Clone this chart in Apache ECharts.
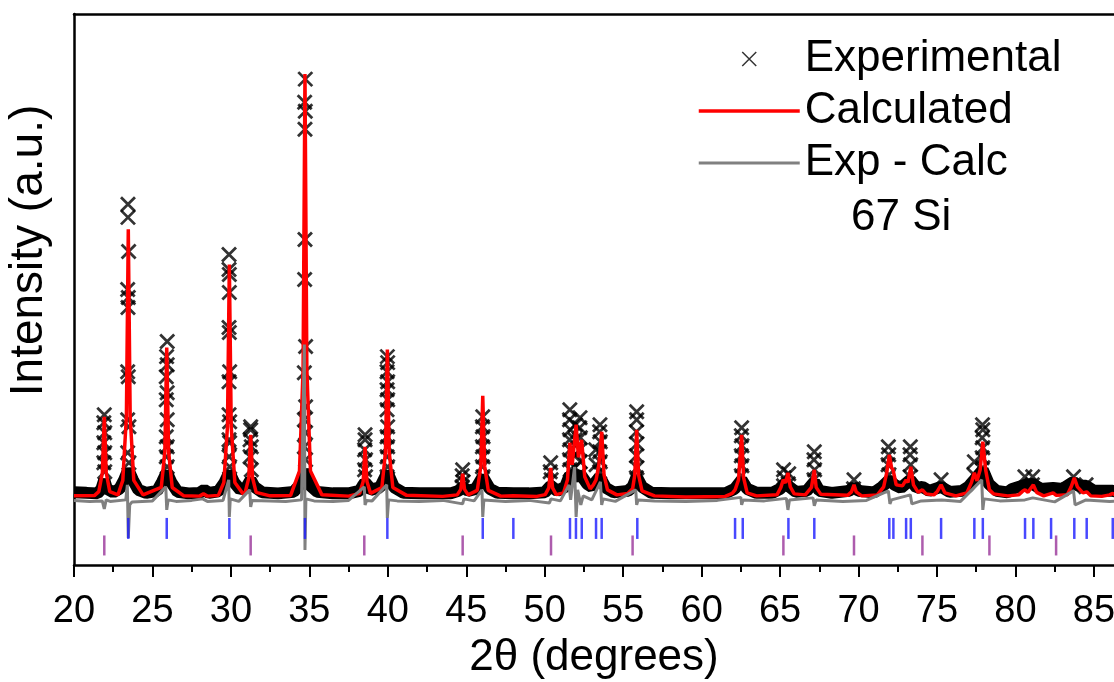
<!DOCTYPE html>
<html>
<head>
<meta charset="utf-8">
<script src="https://cdn.jsdelivr.net/npm/echarts@6/dist/echarts.min.js"></script>
<style>
html,body{margin:0;padding:0;background:#fff;}
#chart{width:1114px;height:682px;}
</style>
</head>
<body>
<div id="chart"></div>
<script>
// ---- Data (2θ in degrees, intensity in arbitrary units) ----
const xMajorTicks = [20, 25, 30, 35, 40, 45, 50, 55, 60, 65, 70, 75, 80, 85];
const xMinorTicks = [22.5, 27.5, 32.5, 37.5, 42.5, 47.5, 52.5, 57.5, 62.5, 67.5, 72.5, 77.5, 82.5];

// Dense experimental background band (overlapping markers)
const experimentalBand = [
  [20,450],[20.8,440],[21.5,430],[21.75,520],[21.93,700],[22.1,520],[22.5,450],[22.9,520],[23.2,700],[23.46,900],[23.75,700],[24.1,500],[24.6,440],
  [25.3,480],[25.6,650],[25.91,850],[26.2,650],[26.6,460],[27.3,430],[28.0,440],[28.3,500],[28.6,440],[29.2,470],[29.6,650],[29.9,850],[30.2,650],
  [30.6,500],[31.0,560],[31.26,700],[31.5,560],[32.0,450],[33.0,430],[34.0,460],[34.4,600],[34.72,900],[35.0,600],[35.5,460],[36.5,430],[37.5,430],
  [38.2,480],[38.55,650],[38.9,500],[39.5,550],[39.97,850],[40.4,550],[41,440],[42,430],[43,430],[44,430],[44.5,480],[44.77,560],[45.1,480],
  [45.6,520],[46.05,760],[46.5,520],[47,440],[48,430],[49,430],[50,450],[50.38,580],[50.8,480],[51.3,560],[51.6,800],[52.0,760],[52.3,800],
  [52.7,620],[53.0,560],[53.5,760],[53.9,540],[54.4,450],[55.3,480],[55.6,560],[55.86,760],[56.2,560],[56.8,440],[58,430],[60,430],[61.5,430],
  [62.1,520],[62.55,700],[62.9,520],[63.5,440],[64.5,440],[65.0,520],[65.3,620],[65.6,560],[66.0,460],[66.7,480],[67.18,660],[67.5,480],
  [68.3,440],[69.4,480],[69.71,560],[70.0,480],[71.0,450],[71.5,560],[71.96,700],[72.3,600],[72.7,540],[73.3,700],[73.7,540],[74.07,560],
  [74.5,480],[75.26,560],[75.8,460],[76.6,480],[77.0,560],[77.38,700],[77.92,900],[78.3,620],[78.8,480],[79.5,450],[79.8,520],[80.6,600],
  [81.1,620],[81.6,520],[82.4,540],[83.0,520],[83.7,660],[84.0,580],[84.5,580],[85.0,480],[86.2,480],[87,440]
];

// Experimental points on the peaks
const experimentalPeaks = [
  [21.93,2000],[21.9,1840],[21.96,1640],[21.9,1440],[21.96,1240],[21.9,1040],[21.96,860],
  [23.44,6200],[23.44,5940],[23.48,5260],[23.42,4500],[23.46,4340],[23.44,4140],[23.42,2860],[23.46,2760],[23.42,1900],[23.5,1760],[23.42,1240],[23.5,1040],
  [25.94,3460],[25.9,3160],[25.94,3000],[25.88,2760],[25.94,2440],[25.88,2300],[25.94,1900],[25.88,1560],[25.94,1360],[25.88,1160],[25.94,960],
  [29.88,5200],[29.88,4900],[29.9,4800],[29.9,4440],[29.88,3740],[29.9,3640],[29.92,2860],[29.88,2660],[29.88,2000],[29.92,1860],[29.88,1500],[29.92,1440],[29.88,1160],[29.92,960],
  [31.26,1760],[31.26,1700],[31.22,1500],[31.3,1360],[31.22,1160],[31.3,900],
  [34.74,8700],[34.7,8240],[34.74,8060],[34.72,7700],[34.72,5500],[34.7,4700],[34.76,3360],[34.68,2840],[34.76,2160],[34.68,1900],[34.76,1640],[34.68,1360],[34.76,1100],
  [38.55,1600],[38.55,1500],[38.52,1300],[38.58,1100],[38.52,900],[38.58,760],
  [39.97,3160],[39.99,3040],[39.95,2860],[39.99,2660],[39.95,2500],[39.99,2300],[39.95,2100],[39.99,1760],[39.95,1560],[39.99,1360],[39.95,1160],[39.99,960],[39.95,760],
  [44.77,900],[44.74,780],[44.8,660],[44.74,560],
  [46.05,1960],[46.03,1760],[46.07,1560],[46.03,1360],[46.07,1160],[46.03,960],[46.07,760],
  [50.38,1040],[50.35,860],[50.41,700],
  [51.6,2100],[51.58,1900],[51.62,1700],[51.58,1500],[51.62,1300],[51.58,1100],[51.62,900],
  [52.25,1940],[52.23,1740],[52.27,1540],[52.23,1300],[52.27,1060],[52.23,820],
  [51.95,1800],[51.93,1500],[51.97,1200],[51.93,940],
  [53.52,1800],[53.5,1660],[53.54,1460],[53.5,1260],[53.54,1060],[53.5,860],[53.25,1300],[53.27,1000],
  [55.86,2060],[55.86,1900],[55.84,1660],[55.88,1420],[55.84,1180],[55.88,940],[55.84,740],
  [62.55,1740],[62.53,1580],[62.57,1380],[62.53,1180],[62.57,980],[62.53,780],
  [65.22,900],[65.25,740],[65.22,580],[65.55,820],[65.52,620],
  [67.18,1260],[67.16,1100],[67.2,900],[67.16,700],
  [69.71,700],[69.68,520],
  [71.9,1360],[71.92,1200],[71.88,1000],[71.94,800],
  [73.3,1360],[73.28,1200],[73.32,1000],[73.28,760],
  [75.26,700],
  [77.9,1800],[77.92,1700],[77.88,1540],[77.92,1340],[77.88,1140],[77.92,940],[77.88,740],
  [77.38,1060],[77.35,800],
  [80.6,760],[81.1,760],[81.08,600],
  [83.7,760],[83.72,560],
  [84.5,600]
];

// Calculated profile
const calculated = [
  [20,380],[21.3,385],
  [21.58,465],[21.81,847],[21.93,1960],[22.05,847],[22.28,465],[22.8,400],
  [23.11,690],[23.34,1970],[23.46,5700],[23.58,1970],[23.81,690],[24.4,400],
  [25.56,548],[25.79,1260],[25.91,3340],[26.03,1260],[26.26,548],[27,380],[28.0,375],[28.25,420],[28.5,375],[29.2,390],
  [29.55,648],[29.78,1760],[29.90,5000],[30.02,1760],[30.25,648],[30.8,410],
  [30.91,450],[31.14,740],[31.26,1600],[31.38,740],[31.61,450],[32.5,380],[33.8,385],
  [34.37,876],[34.60,2900],[34.72,8800],[34.84,2900],[35.07,876],[35.8,400],[37.5,375],
  [38.20,430],[38.43,667],[38.55,1360],[38.67,667],[38.90,430],
  [39.62,546],[39.85,1250],[39.97,3300],[40.09,1250],[40.32,546],[41.2,390],[43.5,370],
  [44.42,400],[44.65,510],[44.77,820],[44.89,510],[45.12,400],
  [45.70,490],[45.93,973],[46.05,2380],[46.17,973],[46.40,490],[47.2,375],[48.0,380],[49.5,370],
  [50.03,405],[50.26,540],[50.38,940],[50.50,540],[50.73,405],[51.2,440],
  [51.45,700],[51.6,1440],[51.75,1000],[52.0,1800],[52.15,1150],[52.35,1500],[52.55,760],[52.9,520],
  [53.1,600],[53.27,700],[53.45,1000],[53.63,1660],[53.78,800],[54.0,500],[54.6,400],
  [55.3,430],[55.6,520],[55.74,800],[55.86,1700],[55.98,800],[56.2,480],[57,380],[59,360],[61.5,370],
  [61.95,430],[62.13,500],[62.35,700],[62.55,1600],[62.67,750],[62.9,440],[63.5,380],
  [64.8,400],[65.05,550],[65.2,700],[65.35,640],[65.5,840],[65.65,560],[65.9,420],
  [66.6,400],[67.0,550],[67.18,900],[67.3,550],[67.6,410],
  [69.3,390],[69.55,460],[69.71,600],[69.85,460],[70.2,380],
  [71.2,400],[71.6,560],[71.8,850],[71.96,1200],[72.1,950],[72.2,900],[72.4,600],[72.8,580],[73.03,700],[73.15,650],[73.33,960],[73.5,600],
  [73.8,450],[74.07,500],[74.3,420],[74.8,400],[75.0,460],[75.26,600],[75.5,440],[76.2,380],
  [76.9,440],[77.2,650],[77.38,840],[77.55,680],[77.75,900],[77.92,1460],[78.1,900],[78.34,500],[78.6,420],[79.5,380],
  [80.2,400],[80.45,470],[80.61,500],[80.8,450],[81.0,540],[81.14,600],[81.35,450],[81.8,380],
  [82.2,420],[82.4,440],[82.6,390],[83.3,400],[83.55,560],[83.75,740],[83.95,560],[84.3,440],[84.54,460],[84.8,380],
  [85.5,370],[86.0,400],[86.2,430],[86.4,380],[87,370]
];

// Difference curve (offset)
const difference = [
  [20,290],[21,270],[21.8,280],[21.93,120],[22.05,300],[22.3,270],
  [23.3,300],[23.40,600],[23.46,-460],[23.55,200],[23.7,260],
  [25.0,280],[25.85,560],[25.91,100],[26.0,300],[26.5,270],
  [27.5,290],[28.2,320],[28.5,270],[29.5,290],[29.86,700],[29.90,-40],[29.96,320],[30.5,270],
  [31.2,500],[31.26,160],[31.35,290],[32.5,280],[33.5,270],[34.5,300],
  [34.68,3400],[34.72,-700],[34.78,320],[35.3,280],[36.5,270],[37.5,290],
  [38.5,560],[38.55,200],[38.65,290],[39.0,280],
  [39.93,600],[39.97,-60],[40.05,300],[40.6,280],[42,270],[43.5,290],
  [44.77,220],[44.85,320],[45.5,280],
  [46.0,500],[46.05,-40],[46.12,300],[47.5,270],[49,290],[50.3,240],[50.4,320],[51.0,280],
  [51.55,600],[51.65,300],[51.9,960],[52.0,-40],[52.1,500],[52.3,200],[52.45,380],[53.0,300],
  [53.55,660],[53.63,200],[53.72,320],[54.5,270],
  [55.8,500],[55.86,200],[55.95,300],[57,280],[59,270],[61,290],[62.5,350],[62.55,200],[62.65,300],[64,280],
  [65.4,330],[65.5,100],[65.6,300],[67.1,340],[67.18,180],[67.3,300],[69,270],[70.5,290],
  [71.9,480],[72.0,220],[72.1,300],[73.3,400],[73.4,220],[74,280],[75.3,300],[76.5,270],
  [77.85,700],[77.92,100],[78.0,320],[79,280],[80.6,300],[81.1,340],[82.5,260],[83.7,480],[83.8,200],[84.5,300],[86,270],[87,280]
];

// Reflection positions (2θ)
const phase1Reflections = [23.46,25.91,29.90,34.72,39.97,46.05,48.0,51.61,51.99,52.36,53.27,53.63,55.9,62.13,62.62,65.53,67.18,71.96,72.22,73.03,73.33,75.26,77.38,77.92,80.61,81.14,82.27,83.75,84.54,86.2];
const phase2Reflections = [21.93,31.26,38.5,44.77,50.4,55.6,65.21,69.71,74.07,78.34,82.59];
const phase1Level = -270;
const phase2Level = -610;

const legendNames = ['Experimental', 'Calculated', 'Exp - Calc'];
const sampleLabel = '67 Si';
const xAxisTitle = '2θ (degrees)';
const yAxisTitle = 'Intensity (a.u.)';

// ---- Chart ----
const FONT = 'Liberation Sans, Arial, sans-serif';
const CROSS = 'path://M0,0L10,10M0,10L10,0';
const X_MIN = 20, X_MAX = 86.28;
const chart = echarts.init(document.getElementById('chart'), null, {renderer: 'canvas'});

const option = {
  backgroundColor: '#ffffff',
  animation: false,
  grid: {left: 74, top: 14, bottom: 117, right: 0, show: false, containLabel: false, outerBoundsMode: 'none'},
  title: {
    text: sampleLabel, left: 846, top: 191,
    textStyle: {fontFamily: FONT, fontSize: 44, fontWeight: 'normal', color: '#000'}
  },
  legend: {
    orient: 'vertical', left: 697, top: 37, itemWidth: 101, itemHeight: 14, itemGap: 8, padding: 0,
    textStyle: {fontFamily: FONT, fontSize: 44, color: '#000'},
    data: [
      {name: legendNames[0], icon: CROSS, itemStyle: {color: 'transparent', borderColor: '#000', borderWidth: 1.5}},
      {name: legendNames[1], itemStyle: {opacity: 0}, lineStyle: {width: 3.5}},
      {name: legendNames[2], itemStyle: {opacity: 0}, lineStyle: {width: 3}}
    ]
  },
  xAxis: [
    {
      type: 'value', min: X_MIN, max: X_MAX, interval: 5, position: 'bottom',
      axisLine: {show: true, onZero: false, lineStyle: {color: '#000', width: 2.5}},
      axisTick: {show: true, inside: false, length: 12, customValues: xMajorTicks, lineStyle: {color: '#000', width: 2}},
      minorTick: {show: false},
      splitLine: {show: false},
      axisLabel: {fontFamily: FONT, fontSize: 38, color: '#000', margin: 28, customValues: xMajorTicks},
      name: xAxisTitle, nameLocation: 'middle', nameGap: 71,
      nameTextStyle: {fontFamily: FONT, fontSize: 44, color: '#000'}
    },
    {
      type: 'value', min: X_MIN, max: X_MAX, interval: 5, position: 'bottom',
      axisLine: {show: false, onZero: false},
      axisTick: {show: true, inside: false, length: 7, customValues: xMinorTicks, lineStyle: {color: '#000', width: 2}},
      axisLabel: {show: false}, splitLine: {show: false}
    },
    {
      type: 'value', min: X_MIN, max: X_MAX, interval: 5, position: 'top',
      axisLine: {show: true, onZero: false, lineStyle: {color: '#000', width: 2.5}},
      axisTick: {show: false}, axisLabel: {show: false}, splitLine: {show: false}
    }
  ],
  yAxis: {
    type: 'value', min: -1000, max: 10000,
    axisLine: {show: true, onZero: false, lineStyle: {color: '#000', width: 2.5}},
    axisTick: {show: false}, axisLabel: {show: false}, splitLine: {show: false},
    name: yAxisTitle, nameLocation: 'middle', nameGap: 22,
    nameTextStyle: {fontFamily: FONT, fontSize: 46, color: '#000', padding: [0, 0, 0, 78]}
  },
  series: [
    {
      name: 'Experimental (dense)', type: 'line', data: experimentalBand, symbol: 'none',
      lineStyle: {color: '#000', width: 12}, z: 1, silent: true
    },
    {
      name: legendNames[0], type: 'scatter', data: experimentalPeaks, symbol: CROSS, symbolSize: 14,
      symbolKeepAspect: true,
      itemStyle: {color: 'transparent', borderColor: '#000', borderWidth: 2.8}, z: 2
    },
    {
      name: legendNames[1], type: 'line', data: calculated, symbol: 'none',
      itemStyle: {color: '#ff0000'},
      lineStyle: {color: '#ff0000', width: 3.5}, z: 3
    },
    {
      name: legendNames[2], type: 'line', data: difference, symbol: 'none',
      itemStyle: {color: '#808080'},
      lineStyle: {color: '#808080', width: 3}, z: 4
    },
    {
      name: 'Phase 1 reflections', type: 'scatter', data: phase1Reflections.map(p => [p, phase1Level]),
      symbol: 'rect', symbolSize: [2.5, 21], itemStyle: {color: '#1a1aff'}, z: 5
    },
    {
      name: 'Phase 2 reflections', type: 'scatter', data: phase2Reflections.map(p => [p, phase2Level]),
      symbol: 'rect', symbolSize: [2.5, 20], itemStyle: {color: '#993399'}, z: 5
    }
  ]
};
chart.setOption(option);
</script>
</body>
</html>
